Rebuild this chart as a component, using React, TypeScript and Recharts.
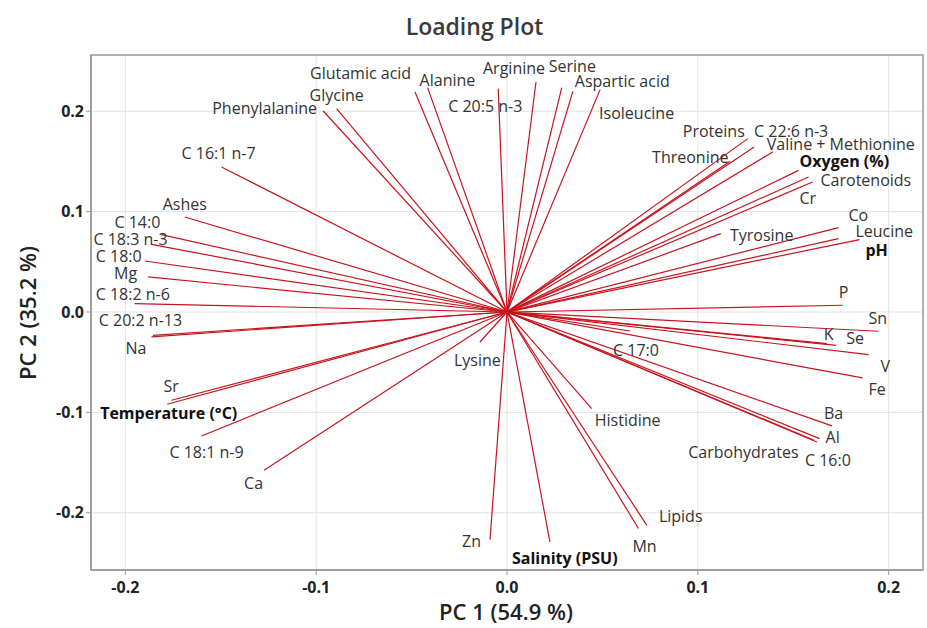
import React from "react";
import {
  ScatterChart,
  Scatter,
  XAxis,
  YAxis,
  CartesianGrid,
  ReferenceLine,
  ReferenceArea,
} from "recharts";

// Variables (loadings)
const variables = [
  "Glutamic acid", "Glycine", "Phenylalanine", "C 16:1 n-7", "Ashes", "C 14:0",
  "C 18:3 n-3", "C 18:0", "Mg", "C 18:2 n-6", "C 20:2 n-13", "Na", "Sr",
  "Temperature (°C)", "C 18:1 n-9", "Ca", "Alanine", "C 20:5 n-3", "Arginine",
  "Serine", "Aspartic acid", "Isoleucine", "Proteins", "C 22:6 n-3", "Threonine",
  "Valine + Methionine", "Oxygen (%)", "Carotenoids", "Cr", "Tyrosine", "Co",
  "Leucine", "pH", "P", "Sn", "K", "Se", "V", "Fe", "C 17:0", "Ba", "Al",
  "Carbohydrates", "C 16:0", "Histidine", "Lysine", "Zn", "Salinity (PSU)", "Mn",
  "Lipids",
];

const pc1 = [
  -0.0482, -0.0893, -0.0963, -0.1496, -0.1689, -0.1811,
  -0.1863, -0.1898, -0.1881, -0.1951, -0.1856, -0.1863, -0.1758,
  -0.1781, -0.1601, -0.1273, -0.0416, -0.0046, 0.0152,
  0.0287, 0.0345, 0.0488, 0.1262, 0.1295, 0.1169,
  0.1393, 0.1528, 0.1601, 0.158, 0.1121, 0.1737,
  0.1737, 0.1847, 0.176, 0.1947, 0.1676, 0.1725, 0.1895, 0.1863, 0.0645, 0.1703, 0.1638,
  0.161, 0.1624, 0.0444, -0.0142, -0.0089, 0.0225, 0.0689,
  0.0733,
];

const pc2 = [
  0.2191, 0.2026, 0.2002, 0.1444, 0.0946, 0.0771,
  0.0674, 0.0508, 0.0349, 0.0084, -0.0232, -0.0247, -0.0879,
  -0.0919, -0.1235, -0.1577, 0.2235, 0.2225, 0.2291,
  0.2235, 0.2198, 0.2215, 0.1727, 0.1643, 0.1501,
  0.1594, 0.1411, 0.1295, 0.1345, 0.0781, 0.0841,
  0.0731, 0.0721, 0.0067, -0.0192, -0.0315, -0.0332, -0.0424, -0.0657, -0.0189, -0.1135, -0.1261,
  -0.1278, -0.1295, -0.0962, -0.0299, -0.2267, -0.2291, -0.2157,
  -0.2125,
];

const boldVariables = ["Temperature (°C)", "Oxygen (%)", "pH", "Salinity (PSU)"];

const xTicks = [-0.2, -0.1, 0, 0.1, 0.2];
const yTicks = [-0.2, -0.1, 0, 0.1, 0.2];

// Label placement (pixel offsets of label's left edge / vertical centre from the line end)
const labelOffsets: [number, number][] = [
  [-105, -19], [-27, -14], [-111, -3], [-40, -14], [-22, -13], [-47, -13],
  [-58, -5], [-49, -5], [-34, -4], [-39, -10], [-54, -15], [-26, 11], [-8, -14],
  [-67, 9], [-32, 16], [-20, 13], [-8, -8], [-50, 17], [-53, -14],
  [-13, -22], [2, -10], [-1, 23], [-65, -8], [0, -16], [-78, -4],
  [-6, -8], [1, -9], [8, -2], [-9, 21], [9, 1], [10, -13],
  [17, -8], [6, 10], [-4, -13], [-10, -13], [-3, -10], [10, -7], [12, 11], [6, 11], [-17, 19], [-8, -13], [6, -2],
  [-126, 12], [-12, 18], [3, 11], [-26, 18], [-28, 1], [-38, 16], [-6, 17],
  [12, -9],
];

const data = variables.map((name, i) => ({
  name,
  x: pc1[i],
  y: pc2[i],
  dx: labelOffsets[i][0],
  dy: labelOffsets[i][1],
  bold: boldVariables.includes(name),
}));

const FONT = "'Open Sans', 'Noto Sans', sans-serif";
const LINE = "#c8141e";

const LabelShape = (props: any) => {
  const { cx, cy, payload } = props;
  if (cx == null || cy == null) return null;
  return (
    <text
      x={cx + payload.dx}
      y={cy + payload.dy}
      dominantBaseline="central"
      textAnchor="start"
      fontFamily={FONT}
      fontSize={16}
      fontWeight={payload.bold ? 700 : 400}
      fill={payload.bold ? "#111" : "#333"}
    >
      {payload.name}
    </text>
  );
};

const fmt = (v: number) => v.toFixed(1);

export default function App() {
  return (
    <div
      style={{
        position: "absolute",
        left: 0,
        top: 0,
        width: 927,
        height: 628,
        background: "#fff",
        fontFamily: FONT,
      }}
    >
      <div
        style={{
          position: "absolute",
          left: 0,
          width: 927,
          top: 10,
          textAlign: "center",
          fontSize: 23,
          fontWeight: 600,
          color: "#3a3a3a",
          lineHeight: "32px",
          paddingLeft: 22,
          boxSizing: "border-box",
        }}
      >
        Loading Plot
      </div>
      <div
        style={{
          position: "absolute",
          left: 90,
          width: 832,
          top: 598,
          textAlign: "center",
          fontSize: 22,
          fontWeight: 600,
          color: "#222",
          lineHeight: "26px",
        }}
      >
        PC 1 (54.9 %)
      </div>
      <div
        style={{
          position: "absolute",
          left: 27 - 150,
          top: 313 - 15,
          width: 300,
          height: 30,
          textAlign: "center",
          fontSize: 22,
          fontWeight: 600,
          color: "#222",
          lineHeight: "30px",
          transform: "rotate(-90deg)",
        }}
      >
        PC 2 (35.2 %)
      </div>
      <div style={{ position: "absolute", left: 0, top: 0 }}>
        <ScatterChart
          width={927}
          height={628}
          margin={{ top: 55, right: 4, bottom: 0, left: 0 }}
        >
          <CartesianGrid stroke="#e3e3e3" strokeWidth={1} />
          <XAxis
            type="number"
            dataKey="x"
            domain={[-0.218, 0.218]}
            ticks={xTicks}
            tickFormatter={fmt}
            height={58}
            axisLine={{ stroke: "#9a9a9a", strokeWidth: 1.5 }}
            tickLine={{ stroke: "#9a9a9a" }}
            tickSize={5}
            tick={{ fill: "#222", fontSize: 16, fontWeight: 700, fontFamily: FONT, dy: 5 }}
            allowDataOverflow
          />
          <YAxis
            type="number"
            dataKey="y"
            domain={[-0.257, 0.256]}
            ticks={yTicks}
            tickFormatter={fmt}
            width={91}
            axisLine={{ stroke: "#9a9a9a", strokeWidth: 1.5 }}
            tickLine={{ stroke: "#9a9a9a" }}
            tickSize={5}
            tick={{ fill: "#222", fontSize: 16, fontWeight: 700, fontFamily: FONT }}
            allowDataOverflow
          />
          <ReferenceArea
            x1={-0.218}
            x2={0.218}
            y1={-0.257}
            y2={0.256}
            fill="none"
            stroke="#9a9a9a"
            strokeWidth={1.5}
            ifOverflow="visible"
          />
          {data.map((d) => (
            <ReferenceLine
              key={d.name}
              segment={[
                { x: 0, y: 0 },
                { x: d.x, y: d.y },
              ]}
              stroke={LINE}
              strokeWidth={1.2}
              ifOverflow="visible"
            />
          ))}
          <Scatter
            data={data}
            shape={LabelShape}
            isAnimationActive={false}
          />
        </ScatterChart>
      </div>
    </div>
  );
}
